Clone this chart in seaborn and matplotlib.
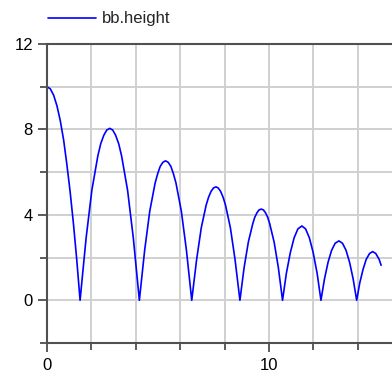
import numpy as np
import pandas as pd
import seaborn as sns
import matplotlib
matplotlib.use("Agg")
import matplotlib.pyplot as plt
from matplotlib.ticker import MultipleLocator, FixedLocator

# ---- data: time (s) and bb.height (m) ----
time = [
    0.00, 0.15, 0.30, 0.45, 0.60, 0.75, 0.89, 1.04, 1.19, 1.34, 1.49,
    1.76, 2.02, 2.29, 2.42, 2.56, 2.69, 2.83, 2.96, 3.09, 3.23, 3.36, 3.63, 3.89, 4.16,
    4.40, 4.63, 4.87, 4.99, 5.10, 5.22, 5.34, 5.46, 5.58, 5.69, 5.81, 6.05, 6.28, 6.52,
    6.74, 6.95, 7.17, 7.28, 7.39, 7.50, 7.61, 7.71, 7.82, 7.93, 8.04, 8.26, 8.47, 8.69,
    8.88, 9.07, 9.27, 9.36, 9.46, 9.55, 9.65, 9.75, 9.84, 9.94, 10.03, 10.23, 10.42, 10.61,
    10.78, 10.96, 11.13, 11.30, 11.48, 11.65, 11.82, 11.99, 12.17, 12.34,
    12.50, 12.66, 12.82, 12.98, 13.15, 13.31, 13.47, 13.63, 13.79, 13.95,
    14.09, 14.24, 14.38, 14.53, 14.67, 14.81, 14.96, 15.05,
]
height = [
    10.0, 9.9, 9.6, 9.1, 8.4, 7.5, 6.4, 5.1, 3.6, 1.9, 0.0,
    2.90, 5.15, 6.76, 7.33, 7.73, 7.97, 8.05, 7.97, 7.73, 7.33, 6.76, 5.15, 2.90, 0.0,
    2.35, 4.18, 5.49, 5.94, 6.27, 6.46, 6.53, 6.46, 6.27, 5.94, 5.49, 4.18, 2.35, 0.0,
    1.91, 3.40, 4.46, 4.83, 5.10, 5.26, 5.31, 5.26, 5.10, 4.83, 4.46, 3.40, 1.91, 0.0,
    1.54, 2.73, 3.59, 3.89, 4.10, 4.23, 4.27, 4.23, 4.10, 3.89, 3.59, 2.73, 1.54, 0.0,
    1.25, 2.23, 2.92, 3.34, 3.48, 3.34, 2.92, 2.23, 1.25, 0.0,
    1.00, 1.78, 2.34, 2.67, 2.78, 2.67, 2.34, 1.78, 1.00, 0.0,
    0.82, 1.46, 1.92, 2.19, 2.28, 2.19, 1.92, 1.64,
]
series_name = "bb.height"
x_major = [0, 10]
y_major = [0, 4, 8, 12]

df = pd.DataFrame({"time": time, series_name: height})

sns.set_theme(style="white")
plt.rcParams["font.family"] = ["Liberation Sans", "DejaVu Sans"]

W, H = 392, 371
fig = plt.figure(figsize=(W / 100, H / 100), dpi=100)
ax = fig.add_axes([47 / W, (H - 343) / H, 16 * 22.2 / W, 299 / H])

sns.lineplot(data=df, x="time", y=series_name, color="#0000ff", lw=1.2,
             estimator=None, sort=False, label=series_name, ax=ax)

ax.set_xlim(0, 16)
ax.set_ylim(-2, 12)
ax.xaxis.set_major_locator(FixedLocator(x_major))
ax.xaxis.set_minor_locator(MultipleLocator(2))
ax.yaxis.set_major_locator(FixedLocator(y_major))
ax.yaxis.set_minor_locator(MultipleLocator(2))
ax.grid(True, which="both", color="#d0d0d0", lw=1.4)
ax.set_axisbelow(True)
ax.set_xlabel("")
ax.set_ylabel("")

for s in ax.spines.values():
    s.set_color("#505050")
    s.set_linewidth(1.5)

ax.tick_params(which="major", length=6.5, width=1.2, color="#404040",
               labelsize=12, labelcolor="black", direction="out",
               bottom=True, left=True)
ax.tick_params(which="minor", length=5, width=1.2, color="#404040",
               direction="out", bottom=True, left=True)
ax.tick_params(axis="x", which="major", pad=4)
ax.tick_params(axis="y", which="major", pad=3.6)

ax.get_legend().remove()
fig.legend(*ax.get_legend_handles_labels(), loc="center left",
           bbox_to_anchor=(48 / W, 1 - 19 / H), frameon=False,
           fontsize=12, handlelength=2.9, handletextpad=0.35,
           borderpad=0, borderaxespad=0)

fig.savefig("out.png", dpi=100)
